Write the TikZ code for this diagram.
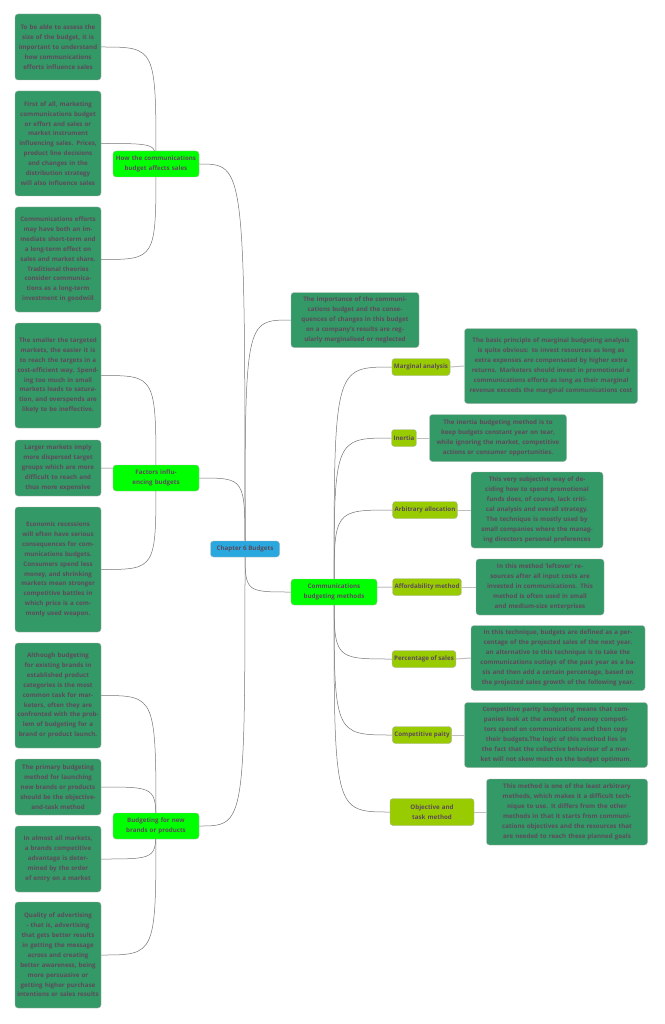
\documentclass[tikz,border=0pt]{standalone}
\usepackage{fontspec}
\setmainfont{Open Sans}
\usetikzlibrary{positioning,calc}
\pgfdeclarelayer{bg}
\pgfsetlayers{bg,main}
\definecolor{leafgreen}{HTML}{339966}
\definecolor{lime}{HTML}{00FF00}
\definecolor{olive}{HTML}{99CC00}
\definecolor{rootblue}{HTML}{29A8E0}
\definecolor{inkplum}{HTML}{5E4A5C}
\tikzset{
  box/.style={draw=gray!60, rounded corners=3pt, align=center, text=inkplum,
    font=\fontsize{6.2}{9.9}\selectfont\bfseries, inner sep=2pt},
  rootbox/.style={box, fill=rootblue, minimum width=69pt, minimum height=16pt},
  topic/.style={box, fill=lime, text width=82pt, minimum height=26pt},
  method/.style={box, fill=olive, minimum height=17pt},
  leaf/.style={box, fill=leafgreen, text width=#1},
  leaf/.default=82pt,
  link/.style={gray!90!black, line width=0.5pt},
  tie/.style={gray!50, line width=1pt}
}
\begin{document}
\begin{tikzpicture}[x=1pt,y=-1pt]
\useasboundingbox (0,0) rectangle (664,1024);

% root
\node[rootbox] (root) at (245,549) {Chapter 6 Budgets};

% left topics
\node[topic] (sales) at (156,164) {How the communications budget affects sales};
\node[topic] (factors) at (156,478) {Factors influencing budgets};
\node[topic] (newbrands) at (156,826) {Budgeting for new brands or products};

% left leaves
\node[leaf, minimum height=66pt] (s1) at (58,47) {To be able to assess the size of the budget, it is important to understand how communications efforts influence sales};
\node[leaf, minimum height=105pt] (s2) at (58,143.5) {First of all, marketing communications budget or effort and sales or market instrument influencing sales. Prices, product line decisions and changes in the distribution strategy will also influence sales};
\node[leaf, minimum height=105pt] (s3) at (58,259.5) {Communications efforts may have both an immediate short-term and a long-term effect on sales and market share. Traditional theories consider communications as a long-term investment in goodwill};
\node[leaf, minimum height=105pt] (f1) at (58,375.5) {The smaller the targeted markets, the easier it is to reach the targets in a cost-efficient way. Spending too much in small markets leads to saturation, and overspends are likely to be ineffective.};
\node[leaf, minimum height=56pt] (f2) at (58,468) {Larger markets imply more dispersed target groups which are more difficult to reach and thus more expensive};
\node[leaf, minimum height=125pt] (f3) at (58,569.5) {Economic recessions will often have serious consequences for communications budgets. Consumers spend less money, and shrinking markets mean stronger competitive battles in which price is a commonly used weapon.};
\node[leaf, minimum height=105pt] (n1) at (58,695.5) {Although budgeting for existing brands in established product categories is the most common task for marketers, often they are confronted with the problem of budgeting for a brand or product launch.};
\node[leaf, minimum height=56pt] (n2) at (58,787) {The primary budgeting method for launching new brands or products should be the objective-and-task method};
\node[leaf, minimum height=66pt] (n3) at (58,859) {In almost all markets, a brands competitive advantage is determined by the order of entry on a market};
\node[leaf, minimum height=106pt] (n4) at (58,955) {Quality of advertising - that is, advertising that gets better results in getting the message across and creating better awareness, being more persuasive or getting higher purchase intentions or sales results};

% right side
\node[leaf=124pt, minimum height=55pt] (importance) at (355,320) {The importance of the communications budget and the consequences of changes in this budget on a company's results are regularly marginalised or neglected};
\node[topic] (methods) at (334,592) {Communications budgeting methods};

% methods
\node[method] (marginal) at (421,367) {Marginal analysis};
\node[method] (inertia) at (404,438) {Inertia};
\node[method] (arbitrary) at (425,510) {Arbitrary allocation};
\node[method] (afford) at (427,587) {Affordability method};
\node[method] (percent) at (424,659) {Percentage of sales};
\node[method] (parity) at (422,735) {Competitive paity};
\node[method, text width=80pt, minimum height=27pt] (objective) at (432,812) {Objective and task method};

% method descriptions
\node[leaf=169pt, minimum height=75pt] (d1) at (551,366) {The basic principle of marginal budgeting analysis is quite obvious: to invest resources as long as extra expenses are compensated by higher extra returns. Marketers should invest in promotional o communications efforts as long as their marginal revenue exceeds the marginal communications cost};
\node[leaf=133pt, minimum height=47pt] (d2) at (498,438) {The inertia budgeting method is to keep budgets constant year on tear, while ignoring the market, competitive actions or consumer opportunities.};
\node[leaf=128pt, minimum height=76pt] (d3) at (537,510) {This very subjective way of deciding how to spend promotional funds does, of course, lack critical analysis and overall strategy. The technique is mostly used by small companies where the managing directors personal preferences};
\node[leaf=124pt, minimum height=56pt] (d4) at (540,587) {In this method `leftover' resources after all input costs are invested in communications. This method is often used in small and medium-size enterprises};
\node[leaf=170pt, minimum height=65pt] (d5) at (558,658) {In this technique, budgets are defined as a percentage of the projected sales of the next year. an alternative to this technique is to take the communications outlays of the past year as a basis and then add a certain percentage, based on the projected sales growth of the following year.};
\node[leaf=179pt, minimum height=65pt] (d6) at (556,735) {Competitive parity budgeting means that companies look at the amount of money competitors spend on communications and then copy their budgets.The logic of this method lies in the fact that the collective behaviour of a market will not skew much os the budget optimum.};
\node[leaf=157pt, minimum height=66pt] (d7) at (567,812) {This method is one of the least arbitrary methods, which makes it a difficult technique to use. It differs from the other methods in that it starts from communications objectives and the resources that are needed to reach these planned goals};

\begin{pgfonlayer}{bg}
  \foreach \c in {sales,factors,newbrands}
    \draw[link] (root.center) .. controls (root.center|-\c.east) .. (\c.east);
  \foreach \c in {importance,methods}
    \draw[link] (root.center) .. controls (root.center|-\c.west) .. (\c.west);
  \foreach \c in {s1,s2,s3}
    \draw[link] (sales.center) .. controls (sales.center|-\c.east) .. (\c.east);
  \foreach \c in {f1,f2,f3}
    \draw[link] (factors.center) .. controls (factors.center|-\c.east) .. (\c.east);
  \foreach \c in {n1,n2,n3,n4}
    \draw[link] (newbrands.center) .. controls (newbrands.center|-\c.east) .. (\c.east);
  \foreach \c in {marginal,inertia,arbitrary,afford,percent,parity,objective}
    \draw[link] (methods.center) .. controls (methods.center|-\c.west) .. (\c.west);
  \foreach \m/\d in {marginal/d1,inertia/d2,arbitrary/d3,afford/d4,percent/d5,parity/d6,objective/d7}
    \draw[tie] (\m.east) -- (\d.west);
\end{pgfonlayer}
\end{tikzpicture}
\end{document}
